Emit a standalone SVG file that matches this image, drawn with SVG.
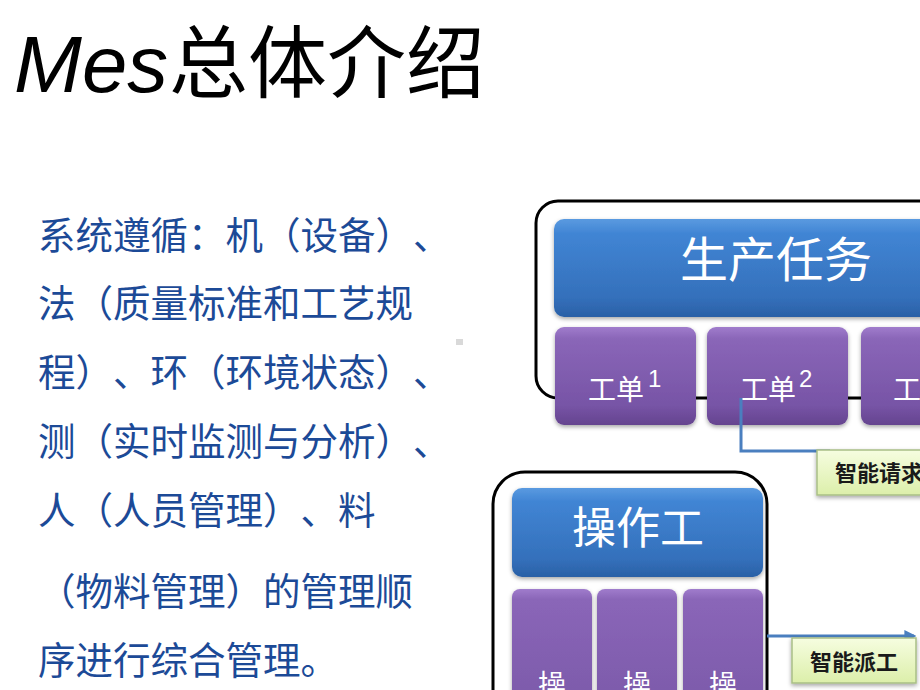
<svg xmlns="http://www.w3.org/2000/svg" width="920" height="690" viewBox="0 0 920 690">
<style>
.cjk{font-family:"Noto Sans CJK SC","Noto Sans",sans-serif;text-spacing-trim:space-all}
.body{font-size:37.5px;fill:#1c4a97}
.wt{fill:#ffffff}
.lbl{font-size:22px;fill:#1a1a1a;font-weight:bold}
.cont{fill:none;stroke:#000;stroke-width:3}
.conn{fill:none;stroke:#4a7fbf;stroke-width:3}
.sup{font-family:"Liberation Sans",Arial,sans-serif;font-size:24px;fill:#fff}
</style>
<defs>
<linearGradient id="gBlue" x1="0" y1="0" x2="0" y2="1">
<stop offset="0" stop-color="#5a9ae0"/>
<stop offset="0.15" stop-color="#4185d4"/>
<stop offset="0.8" stop-color="#3470bb"/>
<stop offset="1" stop-color="#2a60a6"/>
</linearGradient>
<linearGradient id="gPurple" x1="0" y1="0" x2="0" y2="1">
<stop offset="0" stop-color="#a07ccc"/>
<stop offset="0.12" stop-color="#8a66b8"/>
<stop offset="0.8" stop-color="#7754a6"/>
<stop offset="1" stop-color="#65448f"/>
</linearGradient>
<linearGradient id="gPurpleTall" x1="0" y1="0" x2="0" y2="1">
<stop offset="0" stop-color="#a07ccc"/>
<stop offset="0.08" stop-color="#8a66b8"/>
<stop offset="1" stop-color="#7a58a8"/>
</linearGradient>
<linearGradient id="gGreen" x1="0" y1="0" x2="0" y2="1">
<stop offset="0" stop-color="#f6fde0"/>
<stop offset="1" stop-color="#dcefaa"/>
</linearGradient>
<filter id="sh" x="-10%" y="-10%" width="120%" height="130%">
<feDropShadow dx="0" dy="2" stdDeviation="2" flood-color="#000" flood-opacity="0.35"/>
</filter>
<marker id="arr" viewBox="0 0 10 10" refX="8" refY="5" markerWidth="4" markerHeight="4" orient="auto">
<path d="M0,0 L10,5 L0,10 z" fill="#4a7fbf"/>
</marker>
</defs>

<g id="title">
<text y="92" font-size="79"><tspan x="14" font-family="Liberation Sans,Arial,sans-serif" font-style="italic" textLength="154" lengthAdjust="spacingAndGlyphs">Mes</tspan><tspan x="169" class="cjk">总体介绍</tspan></text>
</g>

<g id="body-text" class="cjk body">
<text x="38" y="249" textLength="412.5">系统遵循：机（设备）、</text>
<text x="38" y="317" textLength="375">法（质量标准和工艺规</text>
<text x="38" y="386" textLength="412.5">程）、环（环境状态）、</text>
<text x="38" y="455" textLength="412.5">测（实时监测与分析）、</text>
<text x="38" y="524" textLength="337.5">人（人员管理）、料</text>
<text x="38" y="605" textLength="375">（物料管理）的管理顺</text>
<text x="38" y="674" textLength="300">序进行综合管理。</text>
</g>
<rect x="456" y="339" width="7" height="6" fill="#d9d9d9"/>

<g id="task-container">
<rect class="cont" x="536" y="201" width="420" height="197" rx="22"/>
</g>
<g id="task-bar">
<rect x="554" y="219" width="400" height="98" rx="10" fill="url(#gBlue)" filter="url(#sh)"/>
<text class="cjk wt" x="680" y="277" font-size="48">生产任务</text>
</g>
<g id="order1">
<rect x="555" y="327" width="141" height="98" rx="9" fill="url(#gPurple)" filter="url(#sh)"/>
<text class="cjk wt" x="588" y="400" font-size="28">工单</text>
<text class="sup" x="648" y="387">1</text>
</g>
<g id="order2">
<rect x="707" y="327" width="141" height="98" rx="9" fill="url(#gPurple)" filter="url(#sh)"/>
<text class="cjk wt" x="740" y="400" font-size="28">工单</text>
<text class="sup" x="799" y="387">2</text>
</g>
<g id="order3">
<rect x="861" y="327" width="141" height="98" rx="9" fill="url(#gPurple)" filter="url(#sh)"/>
<text class="cjk wt" x="893" y="400" font-size="28">工单</text>
</g>

<g id="worker-container">
<rect class="cont" x="493" y="472" width="274" height="260" rx="32"/>
</g>
<g id="worker-bar">
<rect x="512" y="488" width="251" height="89" rx="10" fill="url(#gBlue)" filter="url(#sh)"/>
<text class="cjk wt" x="572" y="544" font-size="44">操作工</text>
</g>
<g id="op1">
<rect x="512" y="589" width="80" height="130" rx="8" fill="url(#gPurpleTall)" filter="url(#sh)"/>
<text class="cjk wt" x="552" y="695" font-size="28" text-anchor="middle">操</text>
</g>
<g id="op2">
<rect x="597" y="589" width="80" height="130" rx="8" fill="url(#gPurpleTall)" filter="url(#sh)"/>
<text class="cjk wt" x="637" y="695" font-size="28" text-anchor="middle">操</text>
</g>
<g id="op3">
<rect x="683" y="589" width="80" height="130" rx="8" fill="url(#gPurpleTall)" filter="url(#sh)"/>
<text class="cjk wt" x="723" y="695" font-size="28" text-anchor="middle">操</text>
</g>

<g id="connectors">
<path class="conn" d="M741,398 V451 H830"/>
<path class="conn" d="M767,636 H914" marker-end="url(#arr)"/>
</g>

<g id="label-request">
<rect x="817" y="450" width="130" height="45" fill="url(#gGreen)" stroke="#a9bf86" stroke-width="1.5" filter="url(#sh)"/>
<text class="cjk lbl" x="835" y="481">智能请求</text>
</g>
<g id="label-dispatch">
<rect x="792" y="638" width="124" height="45" fill="url(#gGreen)" stroke="#a9bf86" stroke-width="1.5" filter="url(#sh)"/>
<text class="cjk lbl" x="854" y="670" text-anchor="middle">智能派工</text>
</g>
</svg>
